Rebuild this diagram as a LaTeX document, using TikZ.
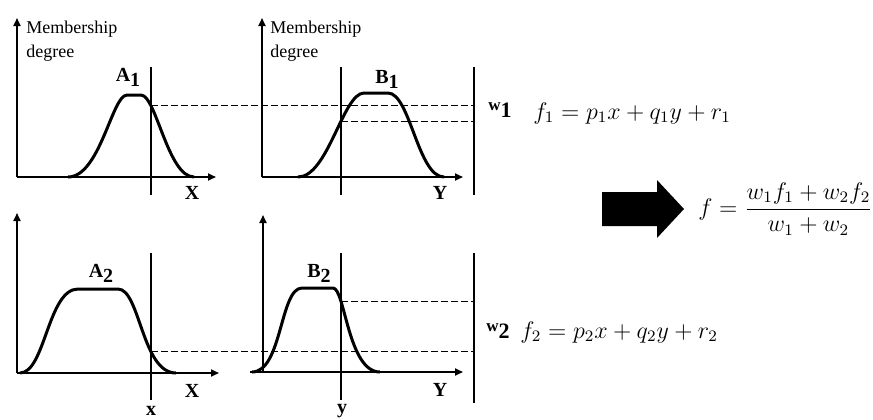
\documentclass[tikz,border=0pt]{standalone}
\usepackage{amsmath}
\usepackage{fontspec}
\setmainfont{Liberation Serif}
\usetikzlibrary{arrows.meta,intersections}

\newcommand{\mflbl}[2]{\textbf{#1}\raisebox{-2.5pt}{\textbf{#2}}}
\newcommand{\wlbl}[1]{{\fontsize{8.5}{10}\selectfont\textbf{w}}\raisebox{-3.5pt}{\fontsize{11}{12}\selectfont\textbf{#1}}}

\begin{document}
\begin{tikzpicture}[x=0.5pt,y=-0.5pt,
    ax/.style={-{Triangle[length=4pt,width=3.5pt]},line width=0.9pt},
    mf/.style={line width=1.5pt,line join=round},
    cut/.style={line width=0.6pt},
    lvl/.style={line width=0.55pt,dash pattern=on 3.5pt off 1.5pt},
    lb/.style={inner sep=0pt,font=\fontsize{10}{12}\selectfont},
    md/.style={anchor=north west,align=left,inner sep=0pt,
      font=\fontsize{9}{12}\selectfont},
    eq/.style={anchor=west,inner sep=0pt,font=\fontsize{11.5}{14}\selectfont}]
  \useasboundingbox (0,0) rectangle (873,419);
  % axes
  \coordinate (oA1) at (17,177);  \coordinate (oB1) at (262,177);
  \coordinate (oA2) at (17,373);  \coordinate (oB2) at (263,372);
  \draw[ax] (oA1) -- (17,18);   \draw[ax] (oA1) -- (216,177);
  \draw[ax] (oB1) -- (262,18);  \draw[ax] (oB1) -- (463,177);
  \draw[ax] (oA2) -- (17,213);  \draw[ax] (oA2) -- (219,373);
  \draw[ax] (oB2) -- (263,215); \draw[ax] (250,372) -- (463,372);
  \node[md] (m1) at (26,21) {Membership\\degree};
  \node[md] (m2) at (270,21) {Membership\\degree};
  % membership functions
  \draw[mf,name path=cA1] (68,177) .. controls (100,177) and (112,95) .. (127,95)
    -- (141,95) .. controls (156,95) and (168,177) .. (194,177);
  \draw[mf,name path=cB1] (298,177) .. controls (328,177) and (343,93) .. (364,93)
    -- (388,93) .. controls (410,93) and (418,177) .. (444,177);
  \draw[mf,name path=cA2] (20,373) .. controls (45,373) and (48,289) .. (78,289)
    -- (118,289) .. controls (140,289) and (142,373) .. (176,373);
  \draw[mf,name path=cB2] (252,372) .. controls (282,372) and (280,288) .. (302,288)
    -- (333,288) .. controls (345,288) and (348,372) .. (380,372);
  % inputs and rule outputs
  \draw[cut,name path=vA1] (151,67) -- (151,195);
  \draw[cut,name path=vB1] (341,67) -- (341,195);
  \draw[cut,name path=vA2] (151,253) -- (151,400);
  \draw[cut,name path=vB2] (341,253) -- (341,400);
  \coordinate (r1) at (474,67);  \coordinate (r2) at (474,253);
  \draw[cut] (r1) -- (474,195);
  \draw[cut] (r2) -- (474,403);
  \path[name intersections={of=cA1 and vA1,by=iA1}];
  \path[name intersections={of=cB1 and vB1,by=iB1}];
  \path[name intersections={of=cA2 and vA2,by=iA2}];
  \path[name intersections={of=cB2 and vB2,by=iB2}];
  \draw[lvl] (iA1) -- (iA1 -| r1);
  \draw[lvl] (iB1) -- (iB1 -| r1);
  \draw[lvl] (iA2) -- (iA2 -| r2);
  \draw[lvl] (iB2) -- (iB2 -| r2);
  % labels
  \node[lb] (A1) at (128,77) {\mflbl{A}{1}};
  \node[lb] (B1) at (387,79) {\mflbl{B}{1}};
  \node[lb] (A2) at (101,273) {\mflbl{A}{2}};
  \node[lb] (B2) at (319,273) {\mflbl{B}{2}};
  \node[lb] (X1) at (192,193) {\textbf{X}};
  \node[lb] (Y1) at (440,193) {\textbf{Y}};
  \node[lb] (X2) at (192,391) {\textbf{X}};
  \node[lb] (Y2) at (440,390) {\textbf{Y}};
  \node[lb] (x) at (151,411) {\textbf{x}};
  \node[lb] (y) at (342,411) {\textbf{y}};
  \node[lb] (w1) at (500,110) {\wlbl{1}};
  \node[lb] (w2) at (498,331) {\wlbl{2}};
  \node[eq] (f1) at (533,113) {$f_1 = p_1x + q_1y + r_1$};
  \node[eq] (f2) at (520,332) {$f_2 = p_2x + q_2y + r_2$};
  \node[eq] (f) at (698,209) {$f = \dfrac{w_1f_1 + w_2f_2}{w_1 + w_2}$};
  % aggregation arrow
  \fill (602,192) -- (657,192) -- (657,180) -- (684,209) -- (657,238)
    -- (657,226) -- (602,226) -- cycle;
\end{tikzpicture}
\end{document}
